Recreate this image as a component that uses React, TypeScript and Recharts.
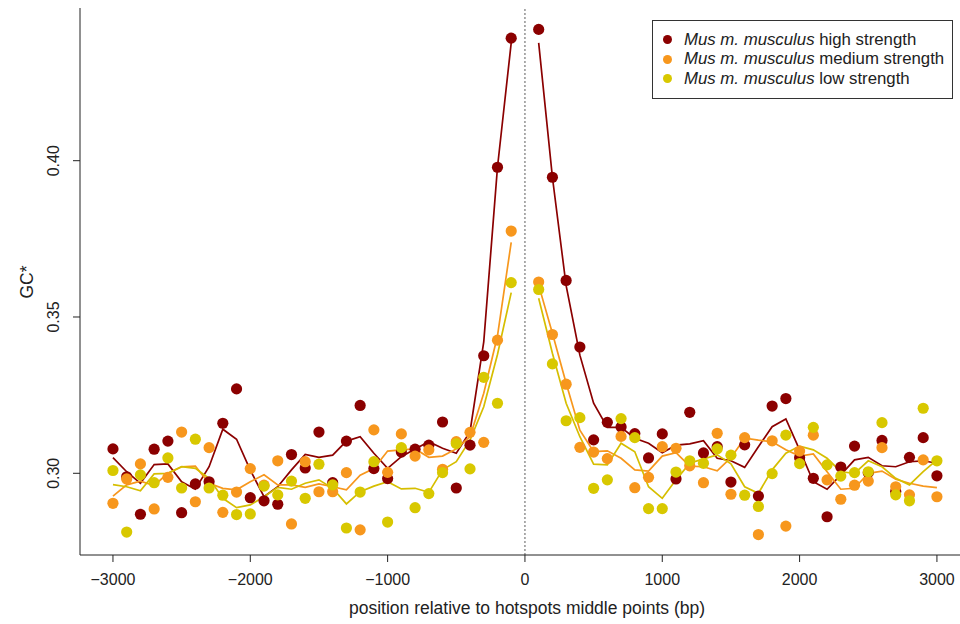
import React from 'react';
import { ComposedChart, Scatter, Line, XAxis, YAxis, ReferenceLine } from 'recharts';

const positions = [
  -3000, -2900, -2800, -2700, -2600, -2500, -2400, -2300, -2200, -2100,
  -2000, -1900, -1800, -1700, -1600, -1500, -1400, -1300, -1200, -1100,
  -1000, -900, -800, -700, -600, -500, -400, -300, -200, -100,
  100, 200, 300, 400, 500, 600, 700, 800, 900, 1000,
  1100, 1200, 1300, 1400, 1500, 1600, 1700, 1800, 1900, 2000,
  2100, 2200, 2300, 2400, 2500, 2600, 2700, 2800, 2900, 3000,
];

const highPoints = [
  0.3078, 0.2989, 0.2869, 0.3077, 0.3103, 0.2874, 0.2966, 0.2973, 0.3160, 0.3270,
  0.2922, 0.2912, 0.2901, 0.3060, 0.3017, 0.3132, 0.2970, 0.3103, 0.3217, 0.3015,
  0.2983, 0.3068, 0.3077, 0.3090, 0.3164, 0.2953, 0.3090, 0.3376, 0.3979, 0.4392,
  0.4420, 0.3947, 0.3617, 0.3404, 0.3107, 0.3163, 0.3148, 0.3127, 0.3049, 0.3126,
  0.2982, 0.3195, 0.3065, 0.3085, 0.2972, 0.3091, 0.2927, 0.3215, 0.3239, 0.3050,
  0.2984, 0.2861, 0.3020, 0.3087, 0.3002, 0.3105, 0.2942, 0.3051, 0.3114, 0.2992,
];

const mediumPoints = [
  0.2904, 0.2982, 0.3030, 0.2886, 0.2987, 0.3132, 0.2909, 0.3082, 0.2875, 0.2940,
  0.3015, 0.2962, 0.3040, 0.2838, 0.3037, 0.2941, 0.2941, 0.3002, 0.2819, 0.3139,
  0.3003, 0.3126, 0.3055, 0.3075, 0.3013, 0.3101, 0.3131, 0.3099, 0.3426, 0.3775,
  0.3612, 0.3444, 0.3285, 0.3083, 0.3068, 0.3047, 0.3118, 0.2954, 0.2987, 0.3085,
  0.3080, 0.3024, 0.2970, 0.3128, 0.2933, 0.3114, 0.2804, 0.3104, 0.2831, 0.3071,
  0.3122, 0.2979, 0.2917, 0.2962, 0.2975, 0.3082, 0.2957, 0.2931, 0.3043, 0.2925,
];

const lowPoints = [
  0.3009, 0.2812, 0.2995, 0.2970, 0.3049, 0.2953, 0.3109, 0.2953, 0.2930, 0.2868,
  0.2870, 0.2959, 0.2931, 0.2975, 0.2920, 0.3029, 0.2963, 0.2825, 0.2940, 0.3037,
  0.2844, 0.3082, 0.2890, 0.2935, 0.3002, 0.3095, 0.3014, 0.3307, 0.3224, 0.3610,
  0.3588, 0.3350, 0.3168, 0.3178, 0.2952, 0.2979, 0.3175, 0.3114, 0.2887, 0.2887,
  0.3004, 0.3040, 0.3032, 0.3078, 0.3058, 0.2930, 0.2894, 0.2999, 0.3122, 0.3031,
  0.3147, 0.3027, 0.2991, 0.3002, 0.3005, 0.3162, 0.2931, 0.2912, 0.3208, 0.3040,
];

const highSmooth = [
  0.3050, 0.3005, 0.2968, 0.3028, 0.3030, 0.2973, 0.2949, 0.3021, 0.3141, 0.3109,
  0.3010, 0.2925, 0.2957, 0.3011, 0.3060, 0.3051, 0.3058, 0.3103, 0.3117, 0.3064,
  0.3016, 0.3053, 0.3078, 0.3101, 0.3080, 0.3064, 0.3133, 0.3420, 0.3979, 0.4377,
  0.4377, 0.3947, 0.3600, 0.3378, 0.3224, 0.3147, 0.3147, 0.3112, 0.3096, 0.3066,
  0.3090, 0.3094, 0.3104, 0.3048, 0.3040, 0.3019, 0.3085, 0.3149, 0.3174, 0.3075,
  0.2973, 0.2949, 0.2995, 0.3043, 0.3051, 0.3024, 0.3021, 0.3037, 0.3040, 0.3032,
];

const mediumSmooth = [
  0.2927, 0.2963, 0.2975, 0.2961, 0.3000, 0.3021, 0.3023, 0.2968, 0.2952, 0.2947,
  0.2973, 0.2995, 0.2963, 0.2963, 0.2955, 0.2966, 0.2957, 0.2947, 0.2994, 0.3015,
  0.3071, 0.3075, 0.3078, 0.3051, 0.3055, 0.3078, 0.3117, 0.3256, 0.3440, 0.3739,
  0.3602, 0.3448, 0.3288, 0.3138, 0.3069, 0.3072, 0.3048, 0.3011, 0.3007, 0.3055,
  0.3066, 0.3023, 0.3021, 0.3008, 0.3050, 0.3112, 0.3106, 0.3101, 0.3075, 0.3055,
  0.3062, 0.3005, 0.2949, 0.2952, 0.3000, 0.3007, 0.2981, 0.2968, 0.2959, 0.2954,
];

const lowSmooth = [
  0.2964, 0.2957, 0.2944, 0.2998, 0.3000, 0.3021, 0.3016, 0.2984, 0.2920, 0.2890,
  0.2899, 0.2925, 0.2955, 0.2949, 0.2968, 0.2979, 0.2952, 0.2902, 0.2941, 0.2959,
  0.2973, 0.2950, 0.2952, 0.2939, 0.3011, 0.3037, 0.3106, 0.3213, 0.3380, 0.3578,
  0.3560, 0.3384, 0.3224, 0.3117, 0.3029, 0.3027, 0.3096, 0.3069, 0.2957, 0.2920,
  0.2979, 0.3032, 0.3046, 0.3059, 0.3030, 0.2957, 0.2936, 0.3011, 0.3064, 0.3087,
  0.3075, 0.3048, 0.3005, 0.3000, 0.3040, 0.3021, 0.2984, 0.2963, 0.3005, 0.3043,
];

const xTicks = [-3000, -2000, -1000, 0, 1000, 2000, 3000];
const yTicks = [0.30, 0.35, 0.40];

const seriesNames = ['high strength', 'medium strength', 'low strength'];
const COLORS = ['#8B0000', '#F7971D', '#D8C800'];
const LINE_COLORS = ['#8B0000', '#F7971D', '#D6BE00'];

const FONT = '"Liberation Sans", Arial, Helvetica, sans-serif';

const toPoints = (vals: number[]) => positions.map((x, i) => ({ x, y: vals[i] }));

const lineRows: any[] = [];
positions.forEach((x, i) => {
  if (x === 100) lineRows.push({ x: 0, high: null, medium: null, low: null });
  lineRows.push({ x, high: highSmooth[i], medium: mediumSmooth[i], low: lowSmooth[i] });
});

const fmtX = (v: number) => (v < 0 ? '\u2212' + Math.abs(v) : String(v));

const YTick = (props: any) => {
  const { y, payload } = props;
  const cx = 54;
  return (
    <text
      x={cx}
      y={y}
      transform={`rotate(-90, ${cx}, ${y})`}
      textAnchor="middle"
      dominantBaseline="central"
      fontSize={16}
      fontFamily={FONT}
      fill="#222"
    >
      {Number(payload.value).toFixed(2)}
    </text>
  );
};

const dotShape = (color: string) => (props: any) => (
  <circle cx={props.cx} cy={props.cy} r={5.6} fill={color} />
);

export default function App() {
  return (
    <div style={{ position: 'absolute', left: 0, top: 0, width: 960, height: 624, background: '#fff', fontFamily: FONT }}>
      <ComposedChart
        width={960}
        height={624}
        data={lineRows}
        margin={{ top: 8, right: 0, bottom: 0, left: 0 }}
      >
        <XAxis
          type="number"
          dataKey="x"
          domain={[-3240, 3168]}
          ticks={xTicks}
          allowDataOverflow
          height={69}
          tickSize={7}
          tickMargin={12}
          tickFormatter={fmtX}
          stroke="#222"
          tick={{ fill: '#222', fontSize: 16, fontFamily: FONT }}
          label={{
            content: () => (
              <text x={527} y={614} textAnchor="middle" fontSize={17.5} fontFamily={FONT} fill="#222">
                position relative to hotspots middle points (bp)
              </text>
            ),
          }}
        />
        <YAxis
          type="number"
          domain={[0.27386, 0.44885]}
          ticks={yTicks}
          allowDataOverflow
          width={80}
          tickSize={7}
          stroke="#222"
          tick={<YTick />}
          label={{
            content: () => (
              <text
                x={27}
                y={282}
                transform="rotate(-90, 27, 282)"
                textAnchor="middle"
                dominantBaseline="central"
                fontSize={17.5}
                fontFamily={FONT}
                fill="#222"
              >
                GC*
              </text>
            ),
          }}
        />
        <ReferenceLine x={0} stroke="#777" strokeDasharray="2 2" strokeWidth={1.2} />
        <Scatter data={toPoints(highPoints)} dataKey="y" shape={dotShape(COLORS[0])} isAnimationActive={false} />
        <Scatter data={toPoints(mediumPoints)} dataKey="y" shape={dotShape(COLORS[1])} isAnimationActive={false} />
        <Scatter data={toPoints(lowPoints)} dataKey="y" shape={dotShape(COLORS[2])} isAnimationActive={false} />
        <Line type="linear" dataKey="high" stroke={LINE_COLORS[0]} strokeWidth={1.7} dot={false} connectNulls={false} isAnimationActive={false} />
        <Line type="linear" dataKey="medium" stroke={LINE_COLORS[1]} strokeWidth={1.7} dot={false} connectNulls={false} isAnimationActive={false} />
        <Line type="linear" dataKey="low" stroke={LINE_COLORS[2]} strokeWidth={1.7} dot={false} connectNulls={false} isAnimationActive={false} />
      </ComposedChart>
      <div
        style={{
          position: 'absolute',
          left: 652,
          top: 20,
          width: 301,
          height: 79,
          border: '1px solid #333',
          boxSizing: 'border-box',
          padding: '9px 0 0 10px',
          fontSize: 16.8,
          fontFamily: FONT,
          color: '#222',
          background: '#fff',
        }}
      >
        {seriesNames.map((name, i) => (
          <div key={name} style={{ display: 'flex', alignItems: 'center', height: 19.5, whiteSpace: 'nowrap' }}>
            <span
              style={{
                display: 'inline-block',
                width: 9,
                height: 9,
                borderRadius: '50%',
                background: COLORS[i],
                marginRight: 12,
              }}
            />
            <span>
              <i>Mus m. musculus</i> {name}
            </span>
          </div>
        ))}
      </div>
    </div>
  );
}
